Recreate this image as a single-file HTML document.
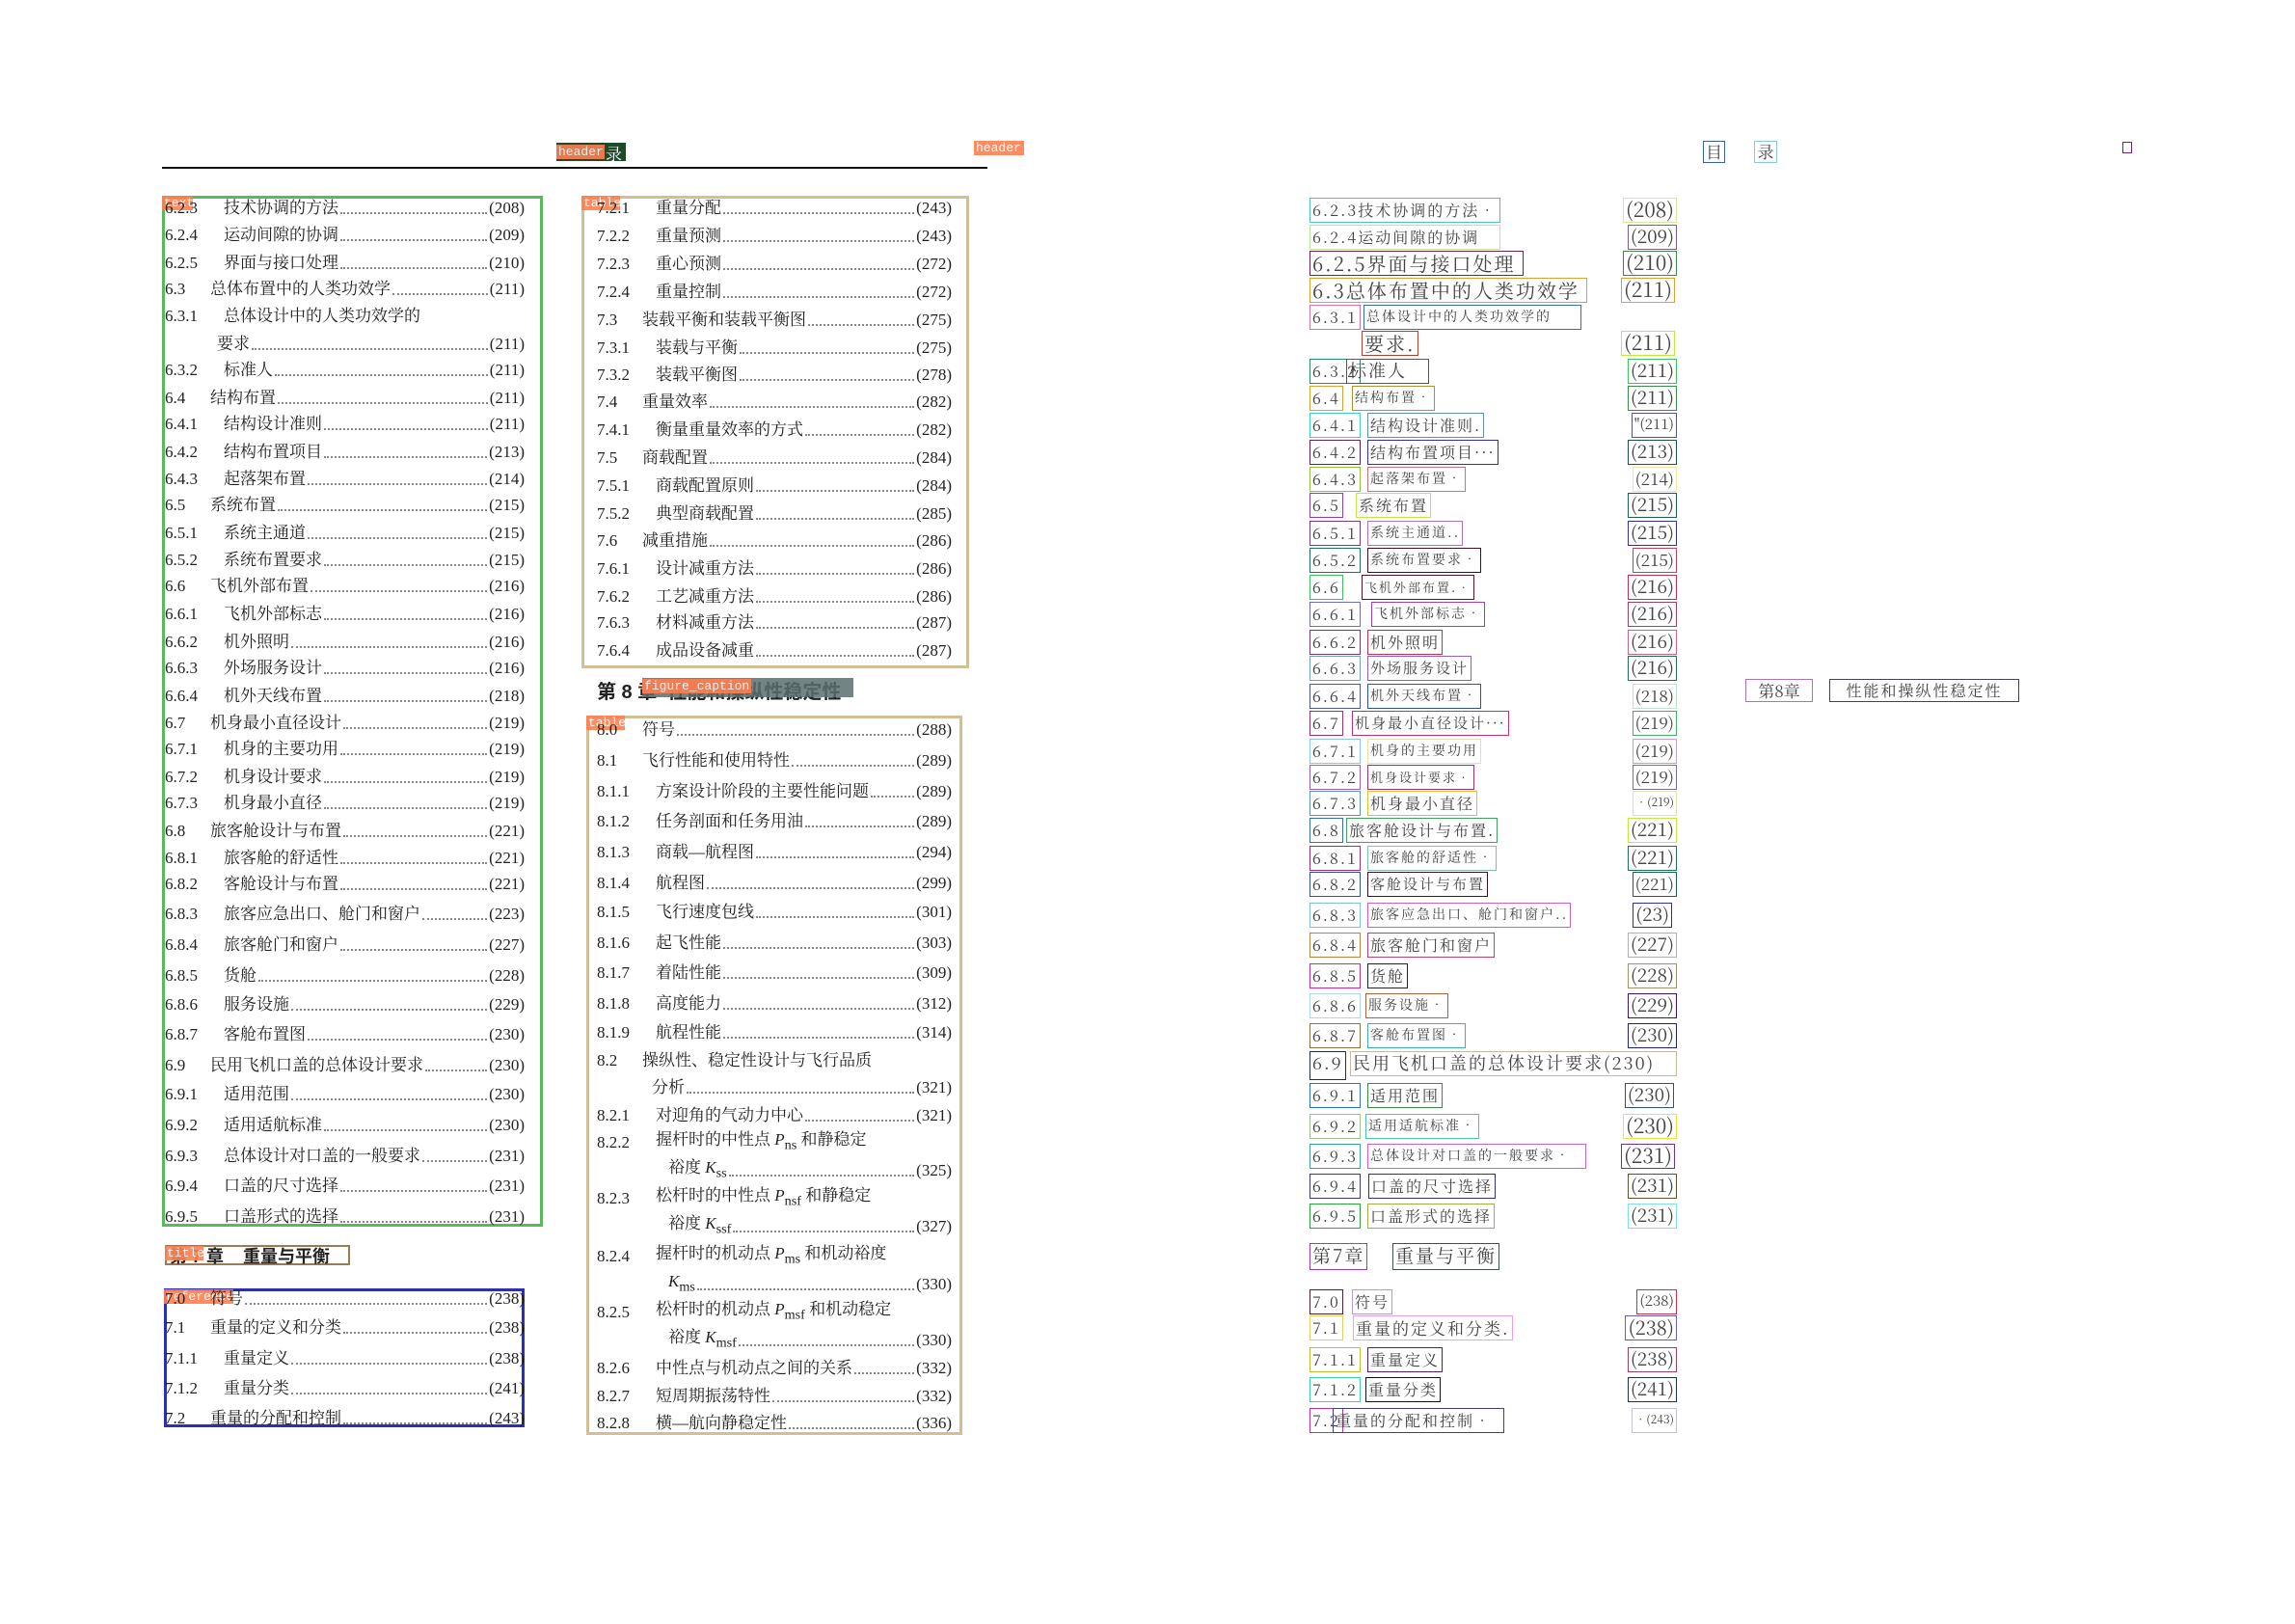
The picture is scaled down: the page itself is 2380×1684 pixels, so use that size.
<!DOCTYPE html>
<html><head><meta charset="utf-8"><style>
*{margin:0;padding:0;box-sizing:border-box}
body{width:2380px;height:1684px;background:#fff;position:relative;overflow:hidden;font-family:"Liberation Serif","Noto Serif CJK SC",serif;color:#222}
.box{position:absolute;border:3px solid}
.lab{position:absolute;background:#ff7f50;color:#fff;font-family:"Liberation Mono",monospace;font-size:13px;line-height:15px;padding:0 2px;opacity:.9}
.r{position:absolute;display:flex;height:28px;line-height:28px;align-items:center;font-size:17px;white-space:nowrap}
.r b{font-weight:normal;width:61px;flex:none}
.r b.s{width:47px}
.r i{font-style:normal;flex:none}
.r s{flex:1;text-decoration:none;border-bottom:2px dotted #888;height:0;margin:0 2px;position:relative;top:5px}
.r u{text-decoration:none;flex:none}
.L{left:171px;width:373px}
.M{left:619px;width:368px}
.q{position:absolute;left:1358px;width:381px;height:26px;font-family:"Noto Serif CJK SC",serif;font-size:16px;letter-spacing:2px;color:#444;white-space:nowrap}
.q span{position:absolute;top:0;border:1.5px solid;height:26px;line-height:23px;padding:0 2px}
.q .p{right:0;font-size:19px;letter-spacing:0;line-height:22px}
</style></head><body>

<div style="position:absolute;left:168px;top:173px;width:856px;height:2px;background:#111"></div>
<div style="position:absolute;left:577px;top:148px;width:72px;height:19px;background:#1d4a2a"></div>
<div class="lab" style="left:577px;top:150px;width:50px">header</div>
<div style="position:absolute;left:628px;top:146px;font-size:17px;color:#fff">录</div>
<div class="lab" style="left:1010px;top:146px;width:52px">header</div>

<div class="box" style="left:168px;top:203px;width:395px;height:1069px;border-color:#5cb85c"></div>
<div class="lab" style="left:168px;top:203px;width:32px">text</div>
<div class="r L" style="top:202px"><b>6.2.3</b><i>技术协调的方法</i><s></s><u>(208)</u></div>
<div class="r L" style="top:230px"><b>6.2.4</b><i>运动间隙的协调</i><s></s><u>(209)</u></div>
<div class="r L" style="top:259px"><b>6.2.5</b><i>界面与接口处理</i><s></s><u>(210)</u></div>
<div class="r L" style="top:286px"><b class="s">6.3</b><i>总体布置中的人类功效学</i><s></s><u>(211)</u></div>
<div class="r L" style="top:314px"><b>6.3.1</b><i>总体设计中的人类功效学的</i></div>
<div class="r L" style="top:343px"><b style="width:54px"></b><i>要求</i><s></s><u>(211)</u></div>
<div class="r L" style="top:370px"><b>6.3.2</b><i>标准人</i><s></s><u>(211)</u></div>
<div class="r L" style="top:399px"><b class="s">6.4</b><i>结构布置</i><s></s><u>(211)</u></div>
<div class="r L" style="top:426px"><b>6.4.1</b><i>结构设计准则</i><s></s><u>(211)</u></div>
<div class="r L" style="top:455px"><b>6.4.2</b><i>结构布置项目</i><s></s><u>(213)</u></div>
<div class="r L" style="top:483px"><b>6.4.3</b><i>起落架布置</i><s></s><u>(214)</u></div>
<div class="r L" style="top:510px"><b class="s">6.5</b><i>系统布置</i><s></s><u>(215)</u></div>
<div class="r L" style="top:539px"><b>6.5.1</b><i>系统主通道</i><s></s><u>(215)</u></div>
<div class="r L" style="top:567px"><b>6.5.2</b><i>系统布置要求</i><s></s><u>(215)</u></div>
<div class="r L" style="top:594px"><b class="s">6.6</b><i>飞机外部布置</i><s></s><u>(216)</u></div>
<div class="r L" style="top:623px"><b>6.6.1</b><i>飞机外部标志</i><s></s><u>(216)</u></div>
<div class="r L" style="top:652px"><b>6.6.2</b><i>机外照明</i><s></s><u>(216)</u></div>
<div class="r L" style="top:679px"><b>6.6.3</b><i>外场服务设计</i><s></s><u>(216)</u></div>
<div class="r L" style="top:708px"><b>6.6.4</b><i>机外天线布置</i><s></s><u>(218)</u></div>
<div class="r L" style="top:736px"><b class="s">6.7</b><i>机身最小直径设计</i><s></s><u>(219)</u></div>
<div class="r L" style="top:763px"><b>6.7.1</b><i>机身的主要功用</i><s></s><u>(219)</u></div>
<div class="r L" style="top:792px"><b>6.7.2</b><i>机身设计要求</i><s></s><u>(219)</u></div>
<div class="r L" style="top:819px"><b>6.7.3</b><i>机身最小直径</i><s></s><u>(219)</u></div>
<div class="r L" style="top:848px"><b class="s">6.8</b><i>旅客舱设计与布置</i><s></s><u>(221)</u></div>
<div class="r L" style="top:876px"><b>6.8.1</b><i>旅客舱的舒适性</i><s></s><u>(221)</u></div>
<div class="r L" style="top:903px"><b>6.8.2</b><i>客舱设计与布置</i><s></s><u>(221)</u></div>
<div class="r L" style="top:934px"><b>6.8.3</b><i>旅客应急出口、舱门和窗户</i><s></s><u>(223)</u></div>
<div class="r L" style="top:966px"><b>6.8.4</b><i>旅客舱门和窗户</i><s></s><u>(227)</u></div>
<div class="r L" style="top:998px"><b>6.8.5</b><i>货舱</i><s></s><u>(228)</u></div>
<div class="r L" style="top:1028px"><b>6.8.6</b><i>服务设施</i><s></s><u>(229)</u></div>
<div class="r L" style="top:1059px"><b>6.8.7</b><i>客舱布置图</i><s></s><u>(230)</u></div>
<div class="r L" style="top:1091px"><b class="s">6.9</b><i>民用飞机口盖的总体设计要求</i><s></s><u>(230)</u></div>
<div class="r L" style="top:1121px"><b>6.9.1</b><i>适用范围</i><s></s><u>(230)</u></div>
<div class="r L" style="top:1153px"><b>6.9.2</b><i>适用适航标准</i><s></s><u>(230)</u></div>
<div class="r L" style="top:1185px"><b>6.9.3</b><i>总体设计对口盖的一般要求</i><s></s><u>(231)</u></div>
<div class="r L" style="top:1216px"><b>6.9.4</b><i>口盖的尺寸选择</i><s></s><u>(231)</u></div>
<div class="r L" style="top:1248px"><b>6.9.5</b><i>口盖形式的选择</i><s></s><u>(231)</u></div>

<div class="box" style="left:171px;top:1291px;width:192px;height:21px;border-color:#9a7b55;border-width:2px"></div>
<div style="position:absolute;left:176px;top:1289px;font-family:'Liberation Sans','Noto Sans CJK SC',sans-serif;font-size:18px;font-weight:bold">第 7 章&nbsp;&nbsp;&nbsp;&nbsp;重量与平衡</div>
<div class="lab" style="left:171px;top:1292px;width:40px">title</div>
<div class="box" style="left:170px;top:1336px;width:374px;height:144px;border-color:#2a2fb5"></div>
<div class="lab" style="left:170px;top:1337px;width:72px">reference</div>
<div class="r L" style="top:1333px"><b class="s">7.0</b><i>符号</i><s></s><u>(238)</u></div>
<div class="r L" style="top:1363px"><b class="s">7.1</b><i>重量的定义和分类</i><s></s><u>(238)</u></div>
<div class="r L" style="top:1395px"><b>7.1.1</b><i>重量定义</i><s></s><u>(238)</u></div>
<div class="r L" style="top:1426px"><b>7.1.2</b><i>重量分类</i><s></s><u>(241)</u></div>
<div class="r L" style="top:1457px"><b class="s">7.2</b><i>重量的分配和控制</i><s></s><u>(243)</u></div>

<div class="box" style="left:603px;top:203px;width:402px;height:490px;border-color:#d2bf94"></div>
<div class="lab" style="left:603px;top:203px;width:40px">table</div>
<div class="r M" style="top:202px"><b>7.2.1</b><i>重量分配</i><s></s><u>(243)</u></div>
<div class="r M" style="top:231px"><b>7.2.2</b><i>重量预测</i><s></s><u>(243)</u></div>
<div class="r M" style="top:260px"><b>7.2.3</b><i>重心预测</i><s></s><u>(272)</u></div>
<div class="r M" style="top:289px"><b>7.2.4</b><i>重量控制</i><s></s><u>(272)</u></div>
<div class="r M" style="top:318px"><b class="s">7.3</b><i>装载平衡和装载平衡图</i><s></s><u>(275)</u></div>
<div class="r M" style="top:347px"><b>7.3.1</b><i>装载与平衡</i><s></s><u>(275)</u></div>
<div class="r M" style="top:375px"><b>7.3.2</b><i>装载平衡图</i><s></s><u>(278)</u></div>
<div class="r M" style="top:403px"><b class="s">7.4</b><i>重量效率</i><s></s><u>(282)</u></div>
<div class="r M" style="top:432px"><b>7.4.1</b><i>衡量重量效率的方式</i><s></s><u>(282)</u></div>
<div class="r M" style="top:461px"><b class="s">7.5</b><i>商载配置</i><s></s><u>(284)</u></div>
<div class="r M" style="top:490px"><b>7.5.1</b><i>商载配置原则</i><s></s><u>(284)</u></div>
<div class="r M" style="top:519px"><b>7.5.2</b><i>典型商载配置</i><s></s><u>(285)</u></div>
<div class="r M" style="top:547px"><b class="s">7.6</b><i>减重措施</i><s></s><u>(286)</u></div>
<div class="r M" style="top:576px"><b>7.6.1</b><i>设计减重方法</i><s></s><u>(286)</u></div>
<div class="r M" style="top:605px"><b>7.6.2</b><i>工艺减重方法</i><s></s><u>(286)</u></div>
<div class="r M" style="top:632px"><b>7.6.3</b><i>材料减重方法</i><s></s><u>(287)</u></div>
<div class="r M" style="top:661px"><b>7.6.4</b><i>成品设备减重</i><s></s><u>(287)</u></div>

<div style="position:absolute;left:619px;top:701px;font-family:'Liberation Sans','Noto Sans CJK SC',sans-serif;font-size:20px;font-weight:bold">第 8 章&nbsp;&nbsp;性能和操纵性稳定性</div>
<div style="position:absolute;left:666px;top:703px;width:219px;height:20px;background:#5a6e72;opacity:.85"></div>
<div class="lab" style="left:666px;top:704px;width:113px">figure_caption</div>

<div class="box" style="left:608px;top:742px;width:390px;height:746px;border-color:#d2bf94"></div>
<div class="lab" style="left:608px;top:742px;width:40px">table</div>
<div class="r M" style="top:743px"><b class="s">8.0</b><i>符号</i><s></s><u>(288)</u></div>
<div class="r M" style="top:775px"><b class="s">8.1</b><i>飞行性能和使用特性</i><s></s><u>(289)</u></div>
<div class="r M" style="top:807px"><b>8.1.1</b><i>方案设计阶段的主要性能问题</i><s></s><u>(289)</u></div>
<div class="r M" style="top:838px"><b>8.1.2</b><i>任务剖面和任务用油</i><s></s><u>(289)</u></div>
<div class="r M" style="top:870px"><b>8.1.3</b><i>商载—航程图</i><s></s><u>(294)</u></div>
<div class="r M" style="top:902px"><b>8.1.4</b><i>航程图</i><s></s><u>(299)</u></div>
<div class="r M" style="top:932px"><b>8.1.5</b><i>飞行速度包线</i><s></s><u>(301)</u></div>
<div class="r M" style="top:964px"><b>8.1.6</b><i>起飞性能</i><s></s><u>(303)</u></div>
<div class="r M" style="top:995px"><b>8.1.7</b><i>着陆性能</i><s></s><u>(309)</u></div>
<div class="r M" style="top:1027px"><b>8.1.8</b><i>高度能力</i><s></s><u>(312)</u></div>
<div class="r M" style="top:1057px"><b>8.1.9</b><i>航程性能</i><s></s><u>(314)</u></div>
<div class="r M" style="top:1086px"><b class="s">8.2</b><i>操纵性、稳定性设计与飞行品质</i></div>
<div class="r M" style="top:1114px"><b style="width:57px"></b><i>分析</i><s></s><u>(321)</u></div>
<div class="r M" style="top:1143px"><b>8.2.1</b><i>对迎角的气动力中心</i><s></s><u>(321)</u></div>
<div class="r M" style="top:1171px"><b>8.2.2</b><i>握杆时的中性点 <em>P</em><sub>ns</sub> 和静稳定</i></div>
<div class="r M" style="top:1200px"><b style="width:74px"></b><i>裕度 <em>K</em><sub>ss</sub></i><s></s><u>(325)</u></div>
<div class="r M" style="top:1229px"><b>8.2.3</b><i>松杆时的中性点 <em>P</em><sub>nsf</sub> 和静稳定</i></div>
<div class="r M" style="top:1258px"><b style="width:74px"></b><i>裕度 <em>K</em><sub>ssf</sub></i><s></s><u>(327)</u></div>
<div class="r M" style="top:1289px"><b>8.2.4</b><i>握杆时的机动点 <em>P</em><sub>ms</sub> 和机动裕度</i></div>
<div class="r M" style="top:1318px"><b style="width:74px"></b><i><em>K</em><sub>ms</sub></i><s></s><u>(330)</u></div>
<div class="r M" style="top:1347px"><b>8.2.5</b><i>松杆时的机动点 <em>P</em><sub>msf</sub> 和机动稳定</i></div>
<div class="r M" style="top:1376px"><b style="width:74px"></b><i>裕度 <em>K</em><sub>msf</sub></i><s></s><u>(330)</u></div>
<div class="r M" style="top:1405px"><b>8.2.6</b><i>中性点与机动点之间的关系</i><s></s><u>(332)</u></div>
<div class="r M" style="top:1434px"><b>8.2.7</b><i>短周期振荡特性</i><s></s><u>(332)</u></div>
<div class="r M" style="top:1462px"><b>8.2.8</b><i>横—航向静稳定性</i><s></s><u>(336)</u></div>

<div style="position:absolute;left:1766px;top:146px;width:23px;height:23px;border:1.5px solid #3a5fb0;font-family:'Noto Serif CJK SC',serif;font-size:17px;line-height:20px;text-align:center;color:#444">目</div>
<div style="position:absolute;left:1819px;top:146px;width:24px;height:23px;border:1.5px solid #8ac6e8;font-family:'Noto Serif CJK SC',serif;font-size:17px;line-height:20px;text-align:center;color:#444">录</div>
<div style="position:absolute;left:2201px;top:147px;width:10px;height:12px;border:1.5px solid #7a2070"></div>

<div class="q" style="top:205px"><span style="left:0;border-color:#4cc3c3;width:198px">6.2.3技术协调的方法•</span><span class="p" style="border-color:#d4ec9a;font-size:21px">(208)</span></div>
<div class="q" style="top:233px"><span style="left:0;border-color:#b8e6a0;width:198px">6.2.4运动间隙的协调</span><span class="p" style="border-color:#8a5a7a">(209)</span></div>
<div class="q" style="top:260px;font-size:20px"><span style="left:0;border-color:#7a2048;width:222px">6.2.5界面与接口处理</span><span class="p" style="border-color:#3a8a4a;font-size:21px">(210)</span></div>
<div class="q" style="top:288px;font-size:20px"><span style="left:0;border-color:#e0a030;width:288px">6.3总体布置中的人类功效学</span><span class="p" style="border-color:#e0a030;right:2px;font-size:21px">(211)</span></div>
<div class="q" style="top:316px"><span style="left:0;border-color:#e070a0">6.3.1</span><span style="left:56px;border-color:#3070b0;width:226px;font-size:14px">总体设计中的人类功效学的</span></div>
<div class="q" style="top:343px;font-size:20px"><span style="left:54px;border-color:#b04030">要求.</span><span class="p" style="border-color:#c0e840;right:2px;font-size:21px">(211)</span></div>
<div class="q" style="top:372px"><span style="left:0;border-color:#2a8a70">6.3.2</span><span style="left:38px;border-color:#555;width:86px;font-size:18px">标准人</span><span class="p" style="border-color:#40c060">(211)</span></div>
<div class="q" style="top:400px"><span style="left:0;border-color:#e0a030">6.4</span><span style="left:44px;border-color:#b09030;font-size:14px">结构布置•</span><span class="p" style="border-color:#3a8a4a">(211)</span></div>
<div class="q" style="top:428px"><span style="left:0;border-color:#40d0c0">6.4.1</span><span style="left:60px;border-color:#6090b0">结构设计准则.</span><span class="p" style="border-color:#555580;font-size:15px">"(211)</span></div>
<div class="q" style="top:456px"><span style="left:0;border-color:#6a2050">6.4.2</span><span style="left:60px;border-color:#3030a0">结构布置项目···</span><span class="p" style="border-color:#205040">(213)</span></div>
<div class="q" style="top:484px"><span style="left:0;border-color:#90c040">6.4.3</span><span style="left:60px;border-color:#d07080;font-size:14px">起落架布置•</span><span class="p" style="border-color:#f0e8a0;font-size:17px">(214)</span></div>
<div class="q" style="top:511px"><span style="left:0;border-color:#9040a0">6.5</span><span style="left:48px;border-color:#c0e840">系统布置</span><span class="p" style="border-color:#206050">(215)</span></div>
<div class="q" style="top:540px"><span style="left:0;border-color:#7a3a8a">6.5.1</span><span style="left:60px;border-color:#b070c0;font-size:14px">系统主通道..</span><span class="p" style="border-color:#3030a0">(215)</span></div>
<div class="q" style="top:568px"><span style="left:0;border-color:#207060">6.5.2</span><span style="left:60px;border-color:#401020;font-size:14px">系统布置要求•</span><span class="p" style="border-color:#c04060;font-size:17px">(215)</span></div>
<div class="q" style="top:596px"><span style="left:0;border-color:#40c060">6.6</span><span style="left:54px;border-color:#601020;font-size:13px">飞机外部布置.•</span><span class="p" style="border-color:#c03050">(216)</span></div>
<div class="q" style="top:624px"><span style="left:0;border-color:#7070b0">6.6.1</span><span style="left:64px;border-color:#a040a0;font-size:14px">飞机外部标志•</span><span class="p" style="border-color:#a04060">(216)</span></div>
<div class="q" style="top:653px"><span style="left:0;border-color:#7a3a6a">6.6.2</span><span style="left:60px;border-color:#c03050">机外照明</span><span class="p" style="border-color:#d06080">(216)</span></div>
<div class="q" style="top:680px"><span style="left:0;border-color:#70a0c0">6.6.3</span><span style="left:60px;border-color:#9060c0;font-size:15px">外场服务设计</span><span class="p" style="border-color:#207050">(216)</span></div>
<div class="q" style="top:709px"><span style="left:0;border-color:#4a5a9a">6.6.4</span><span style="left:60px;border-color:#3050a0;font-size:14px">机外天线布置•</span><span class="p" style="border-color:#c0e0d0;font-size:17px">(218)</span></div>
<div class="q" style="top:737px"><span style="left:0;border-color:#a03070">6.7</span><span style="left:44px;border-color:#c03070;font-size:15px">机身最小直径设计···</span><span class="p" style="border-color:#40b060;font-size:17px">(219)</span></div>
<div class="q" style="top:766px"><span style="left:0;border-color:#8ac6e8">6.7.1</span><span style="left:60px;border-color:#e0e0b0;font-size:14px">机身的主要功用</span><span class="p" style="border-color:#c0a0d0;font-size:17px">(219)</span></div>
<div class="q" style="top:793px"><span style="left:0;border-color:#a060c0">6.7.2</span><span style="left:60px;border-color:#a03070;font-size:13px">机身设计要求•</span><span class="p" style="border-color:#7070b0;font-size:17px">(219)</span></div>
<div class="q" style="top:820px"><span style="left:0;border-color:#6090c0">6.7.3</span><span style="left:60px;border-color:#e0c030">机身最小直径</span><span class="p" style="border-color:#e0e0b0;font-size:12px">•(219)</span></div>
<div class="q" style="top:848px"><span style="left:0;border-color:#3070b0">6.8</span><span style="left:38px;border-color:#40a060">旅客舱设计与布置.</span><span class="p" style="border-color:#c0e840">(221)</span></div>
<div class="q" style="top:877px"><span style="left:0;border-color:#a03080">6.8.1</span><span style="left:60px;border-color:#80c0b0;font-size:14px">旅客舱的舒适性•</span><span class="p" style="border-color:#207050">(221)</span></div>
<div class="q" style="top:904px"><span style="left:0;border-color:#3050a0">6.8.2</span><span style="left:60px;border-color:#401020;font-size:15px">客舱设计与布置</span><span class="p" style="border-color:#206050;font-size:17px">(221)</span></div>
<div class="q" style="top:936px"><span style="left:0;border-color:#80c0d0">6.8.3</span><span style="left:60px;border-color:#d060c0;font-size:14px">旅客应急出口、舱门和窗户..</span><span class="p" style="border-color:#3030a0;right:5px;font-size:19px">(23)</span></div>
<div class="q" style="top:967px"><span style="left:0;border-color:#c08040">6.8.4</span><span style="left:60px;border-color:#c04070">旅客舱门和窗户</span><span class="p" style="border-color:#b0b0b0">(227)</span></div>
<div class="q" style="top:999px"><span style="left:0;border-color:#c030a0">6.8.5</span><span style="left:60px;border-color:#222">货舱</span><span class="p" style="border-color:#a09070">(228)</span></div>
<div class="q" style="top:1030px"><span style="left:0;border-color:#b0d8e0">6.8.6</span><span style="left:58px;border-color:#b06040;font-size:14px">服务设施•</span><span class="p" style="border-color:#401070">(229)</span></div>
<div class="q" style="top:1061px"><span style="left:0;border-color:#907040">6.8.7</span><span style="left:60px;border-color:#40b0b0;font-size:14px">客舱布置图•</span><span class="p" style="border-color:#202080">(230)</span></div>
<div class="q" style="top:1090px;font-size:18px"><span style="left:0;border-color:#203050;height:30px">6.9</span><span style="left:42px;border-color:#c8b8a0;width:339px">民用飞机口盖的总体设计要求(230)</span></div>
<div class="q" style="top:1123px"><span style="left:0;border-color:#3070c0">6.9.1</span><span style="left:60px;border-color:#3a8a4a">适用范围</span><span class="p" style="border-color:#305080;right:3px">(230)</span></div>
<div class="q" style="top:1155px"><span style="left:0;border-color:#a0c090">6.9.2</span><span style="left:58px;border-color:#50c0b0;font-size:14px">适用适航标准•</span><span class="p" style="border-color:#f0e040;font-size:21px">(230)</span></div>
<div class="q" style="top:1186px"><span style="left:0;border-color:#40a0a0">6.9.3</span><span style="left:60px;border-color:#d060d0;font-size:14px;width:227px">总体设计对口盖的一般要求•</span><span class="p" style="border-color:#7030a0;right:2px;font-size:21px">(231)</span></div>
<div class="q" style="top:1217px"><span style="left:0;border-color:#3a3a7a">6.9.4</span><span style="left:61px;border-color:#303080">口盖的尺寸选择</span><span class="p" style="border-color:#605030">(231)</span></div>
<div class="q" style="top:1248px"><span style="left:0;border-color:#30a040">6.9.5</span><span style="left:60px;border-color:#a0b040">口盖形式的选择</span><span class="p" style="border-color:#80e0e0">(231)</span></div>
<div class="q" style="top:1289px;font-size:19px"><span style="left:0;border-color:#a040b0;height:28px">第7章</span><span style="left:86px;border-color:#405050;height:28px">重量与平衡</span></div>
<div class="q" style="top:1337px"><span style="left:0;border-color:#502030">7.0</span><span style="left:44px;border-color:#b0a0d0">符号</span><span class="p" style="border-color:#d03040;font-size:15px">(238)</span></div>
<div class="q" style="top:1364px"><span style="left:0;border-color:#e0d060">7.1</span><span style="left:45px;border-color:#f0a0e0;font-size:17px">重量的定义和分类.</span><span class="p" style="border-color:#6060c0;font-size:20px">(238)</span></div>
<div class="q" style="top:1397px"><span style="left:0;border-color:#c0c030">7.1.1</span><span style="left:60px;border-color:#502070">重量定义</span><span class="p" style="border-color:#a04060">(238)</span></div>
<div class="q" style="top:1428px"><span style="left:0;border-color:#40d0b0">7.1.2</span><span style="left:58px;border-color:#111">重量分类</span><span class="p" style="border-color:#203050">(241)</span></div>
<div class="q" style="top:1460px"><span style="left:0;border-color:#c030a0">7.2</span><span style="left:24px;border-color:#404080;width:178px">重量的分配和控制•</span><span class="p" style="border-color:#c0c0e0;font-size:12px">•(243)</span></div>

<div style="position:absolute;left:1810px;top:704px;width:70px;height:24px;border:1.5px solid #b070c0;font-family:'Noto Serif CJK SC',serif;font-size:17px;line-height:21px;text-align:center;color:#444">第8章</div>
<div style="position:absolute;left:1897px;top:704px;width:197px;height:24px;border:1.5px solid #404060;font-family:'Noto Serif CJK SC',serif;font-size:16px;letter-spacing:2px;line-height:21px;text-align:center;color:#444">性能和操纵性稳定性</div>

</body></html>
